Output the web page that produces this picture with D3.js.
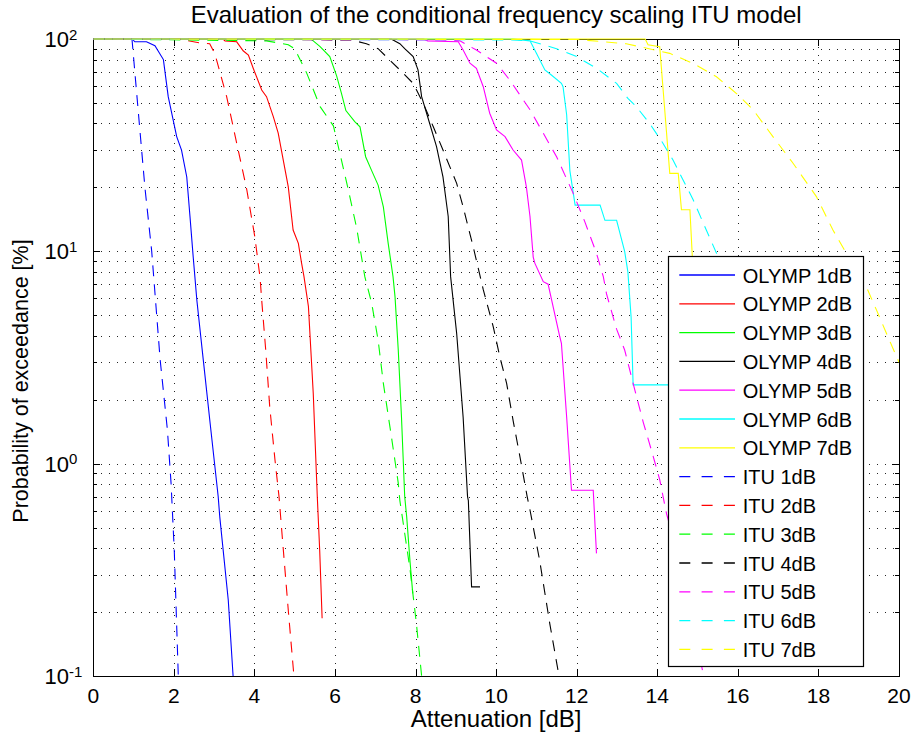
<!DOCTYPE html>
<html>
<head>
<meta charset="utf-8">
<script src="https://cdn.jsdelivr.net/npm/d3@7"></script>
<style>
  html, body { margin: 0; padding: 0; background: #fff; }
  svg { display: block; font-family: "Liberation Sans", Arial, Helvetica, sans-serif; }
</style>
</head>
<body>
<svg id="chart" width="917" height="740"></svg>
<script>
// ---------- data ----------
const titleText = "Evaluation of the conditional frequency scaling ITU model";
const xLabelText = "Attenuation [dB]";
const yLabelText = "Probability of exceedance [%]";
const xTicks = [0, 2, 4, 6, 8, 10, 12, 14, 16, 18, 20];
const yTickExps = [2, 1, 0, -1];

const seriesNames = ["OLYMP 1dB","OLYMP 2dB","OLYMP 3dB","OLYMP 4dB","OLYMP 5dB","OLYMP 6dB","OLYMP 7dB",
                     "ITU 1dB","ITU 2dB","ITU 3dB","ITU 4dB","ITU 5dB","ITU 6dB","ITU 7dB"];
const seriesColors = ["#0000ff","#ff0000","#00ff00","#000000","#ff00ff","#00ffff","#ffff00",
                      "#0000ff","#ff0000","#00ff00","#000000","#ff00ff","#00ffff","#ffff00"];
const seriesDashed = [false,false,false,false,false,false,false,true,true,true,true,true,true,true];

// OLYMP measured curves (attenuation dB, exceedance %)
const olymp1X = [0,0.97,1.03,1.32,1.53,1.74,1.86,2.07,2.19,2.32,2.40,2.48,2.57,2.73,2.90,3.10,3.14,3.35,3.47];
const olymp1Y = [100,100,97,97,93,80,53.5,34.7,30,22.4,14.6,9.4,5.9,3.08,1.55,0.70,0.56,0.228,0.1];
const olymp2X = [0,3.22,3.27,3.56,3.72,3.85,3.97,4.18,4.30,4.47,4.59,4.84,4.96,5.09,5.17,5.23,5.34,5.46,5.56,5.62,5.68];
const olymp2Y = [100,100,98,97,88,84,72.8,57.5,53.5,43,36,20.1,12.6,10.9,8.8,7.6,5.5,2.14,0.70,0.39,0.187];
const olymp3X = [0,5.40,5.46,5.63,5.87,6.04,6.16,6.27,6.49,6.62,6.76,6.91,7.07,7.20,7.32,7.44,7.49,7.57,7.65,7.73,7.78,7.86,7.93];
const olymp3Y = [100,100,98,92,82.6,67,55.5,46,40.8,38.6,27.9,24,20.5,16.2,10.9,7.6,6.1,3.43,1.66,0.70,0.56,0.35,0.245];
const olymp4X = [0,7.40,7.44,7.61,7.73,7.94,8.06,8.15,8.35,8.52,8.68,8.81,8.87,9.02,9.18,9.29,9.31,9.39,9.60];
const olymp4Y = [100,100,99,95,90,82.6,71.5,53.5,40,31.1,22.4,14.6,7.6,4.1,1.66,0.70,0.67,0.263,0.263];
const olymp5X = [0,8.20,8.30,9.06,9.18,9.35,9.51,9.68,9.84,10.01,10.22,10.42,10.63,10.75,10.84,10.92,10.96,11.17,11.29,11.58,11.62,11.75,11.87,12.41,12.49];
const olymp5Y = [100,100,98,97,88.7,76.9,72.8,59.6,44.7,37.3,34.7,30,26.9,20.1,14.6,9.4,8.8,7.2,7.0,3.96,3.69,1.66,0.75,0.75,0.378];
const olymp6X = [0,10.42,10.84,11.0,11.21,11.37,11.62,11.66,11.75,11.83,11.96,12.58,12.70,12.99,13.19,13.27,13.35,13.40,14.60];
const olymp6Y = [100,100,98,85.7,71.5,67.7,61.8,59.6,44,24,16.5,16.5,14,14,10,8.0,4.9,2.35,2.35];
const olymp7X = [0,13.70,13.77,14.06,14.31,14.52,14.60,14.81,14.87,14.95];
const olymp7Y = [100,100,94,92,23.3,23.3,15.7,15.7,9.4,4];

// ITU scaled curves
const itu1X = [0,0.96,1.12,1.28,1.45,1.66,1.84,1.93,2.01,2.11];
const itu1Y = [100,100,44.7,20.1,10,3.08,1.44,0.81,0.39,0.1];
const itu2X = [0,2.19,2.62,2.89,3.02,3.31,3.56,3.81,4.01,4.14,4.18,4.28,4.38,4.51,4.61,4.67,4.84,4.98];
const itu2Y = [100,99.5,96,95,85,53.5,32.3,19.5,11.7,7.5,5.9,3.43,1.85,1.04,0.70,0.505,0.204,0.1];
const itu3X = [0,4.30,4.84,5.0,5.30,5.63,5.96,6.12,6.33,6.54,6.74,6.91,7.07,7.20,7.40,7.57,7.61,7.86,8.02,8.15];
const itu3Y = [100,98,94,90,68.9,48,39,29,19.5,12.8,7.6,5.7,3.82,2.39,1.34,0.81,0.67,0.32,0.177,0.1];
const itu4X = [0,6.40,6.78,7.07,7.61,7.94,8.19,8.44,8.68,9.02,9.18,9.43,9.68,9.93,10.09,10.26,10.42,10.59,10.77,10.84,11.08,11.33,11.56];
const itu4Y = [100,99,95,90,71.5,61.8,49.8,38.6,30,20.9,16.2,10.5,6.6,4.4,3.19,2.39,1.6,1.08,0.70,0.605,0.35,0.177,0.1];
const itu5X = [0,8.60,9.10,9.51,10.01,10.34,10.84,11.17,11.50,11.91,12.20,12.49,12.66,12.74,12.99,13.19,13.40,13.65,13.90,14.06,14.23,14.60,15.15];
const itu5Y = [100,99,98,88.7,76.9,64,46.4,36,27.9,18.8,13.8,9.8,7.6,6.3,4.3,3.43,2.39,1.57,1.08,0.84,0.58,0.33,0.1];
const itu6X = [0,10.40,10.84,11.50,12.0,12.49,12.99,13.27,13.48,13.81,14.14,14.39,14.64,14.89,15.14,15.47,16.0,16.6,17.3,18.0,18.7];
const itu6Y = [100,99,98,90,82.6,72.8,61.8,52.5,48,40,32.3,26.9,21.7,17.5,13.6,9.8,5.2,2.5,1.0,0.4,0.12];
const itu7X = [0,12.0,13.23,14.31,14.88,15.47,15.96,16.38,16.87,17.37,17.95,18.36,18.69,19.19,19.44,19.69,19.94,20.0];
const itu7Y = [100,99.5,95,85.6,76.9,66.4,55.5,46.4,34.7,26,18.1,12.6,9.8,6.8,5.3,4.1,3.19,3.0];

const seriesX = [olymp1X,olymp2X,olymp3X,olymp4X,olymp5X,olymp6X,olymp7X,itu1X,itu2X,itu3X,itu4X,itu5X,itu6X,itu7X];
const seriesY = [olymp1Y,olymp2Y,olymp3Y,olymp4Y,olymp5Y,olymp6Y,olymp7Y,itu1Y,itu2Y,itu3Y,itu4Y,itu5Y,itu6Y,itu7Y];

// ---------- layout ----------
const svg = d3.select("#chart");
const L = 93.3, R = 899, T = 39, B = 676;
const x = d3.scaleLinear().domain([0, 20]).range([L, R]);
const y = d3.scaleLog().domain([0.1, 100]).range([B, T]);

// grid
const grid = svg.append("g").attr("stroke", "#000").attr("stroke-width", 1)
  .attr("stroke-dasharray", "1,7").attr("shape-rendering", "crispEdges").attr("opacity", 0.85);
xTicks.filter(v => v > 0 && v < 20).forEach(v => {
  grid.append("line").attr("x1", Math.round(x(v)) + 0.5).attr("x2", Math.round(x(v)) + 0.5)
    .attr("y1", T).attr("y2", B);
});
const minorVals = [];
[0.1, 1, 10].forEach(dec => { for (let k = 1; k <= 9; k++) minorVals.push(dec * k); });
minorVals.filter(v => v > 0.1 && v < 100).forEach(v => {
  grid.append("line").attr("y1", Math.round(y(v)) + 0.5).attr("y2", Math.round(y(v)) + 0.5)
    .attr("x1", L).attr("x2", R);
});

// axes box (drawn beneath the data, as in the original)
const axes = svg.append("g").attr("stroke", "#000").attr("stroke-width", 1).attr("shape-rendering", "crispEdges");
axes.append("rect").attr("x", L).attr("y", T).attr("width", R - L).attr("height", B - T).attr("fill", "none");
xTicks.forEach(v => {
  const px = Math.round(x(v)) + 0.5;
  axes.append("line").attr("x1", px).attr("x2", px).attr("y1", B).attr("y2", B - 7);
  axes.append("line").attr("x1", px).attr("x2", px).attr("y1", T).attr("y2", T + 7);
});
minorVals.concat([100]).forEach(v => {
  const py = Math.round(y(v)) + 0.5;
  const major = Math.abs(Math.log10(v) - Math.round(Math.log10(v))) < 1e-9;
  const len = major ? 7 : 4;
  axes.append("line").attr("x1", L).attr("x2", L + len).attr("y1", py).attr("y2", py);
  axes.append("line").attr("x1", R).attr("x2", R - len).attr("y1", py).attr("y2", py);
});

// curves
const clip = svg.append("clipPath").attr("id", "plotclip");
clip.append("rect").attr("x", L).attr("y", T - 1).attr("width", R - L).attr("height", B - T + 1);
const line = d3.line().x(d => x(d[0])).y(d => y(d[1]));
const curves = svg.append("g").attr("clip-path", "url(#plotclip)");
seriesNames.forEach((name, i) => {
  const pts = seriesX[i].map((v, j) => [v, seriesY[i][j]]);
  curves.append("path").datum(pts)
    .attr("d", line)
    .attr("fill", "none")
    .attr("stroke", seriesColors[i])
    .attr("stroke-width", 1.1)
    .attr("stroke-dasharray", seriesDashed[i] ? "11,8" : null);
});

// x tick labels
const xAxisG = svg.append("g");
xTicks.forEach(v => {
  xAxisG.append("text").attr("x", x(v)).attr("y", 703)
    .attr("text-anchor", "middle").attr("font-size", 21).attr("fill", "#000").text(v);
});
// y tick labels (10^n)
yTickExps.forEach(e => {
  const py = y(Math.pow(10, e));
  svg.append("text").attr("x", 69).attr("y", py + 8).attr("text-anchor", "end")
    .attr("font-size", 22).attr("fill", "#000").text("10");
  svg.append("text").attr("x", 69).attr("y", py + 0.5).attr("text-anchor", "start")
    .attr("font-size", 15).attr("fill", "#000").text(e < 0 ? "-" + Math.abs(e) : String(e));
});

// labels and title
svg.append("text").attr("x", (L + R) / 2).attr("y", 23).attr("text-anchor", "middle")
  .attr("font-size", 24).attr("fill", "#000").text(titleText);
svg.append("text").attr("x", (L + R) / 2).attr("y", 727).attr("text-anchor", "middle")
  .attr("font-size", 24).attr("fill", "#000").text(xLabelText);
svg.append("text").attr("transform", "translate(28, 381) rotate(-90)")
  .attr("text-anchor", "middle").attr("font-size", 21.5).attr("fill", "#000").text(yLabelText);

// legend
const lg = svg.append("g");
const lgX = 668.5, lgY = 256.5, lgW = 195, lgH = 410;
lg.append("rect").attr("x", lgX).attr("y", lgY).attr("width", lgW).attr("height", lgH)
  .attr("fill", "#fff").attr("stroke", "#000").attr("stroke-width", 1.2);
seriesNames.forEach((name, i) => {
  const cy = 275 + i * 28.8;
  lg.append("line").attr("x1", 679.3).attr("x2", 735).attr("y1", cy).attr("y2", cy)
    .attr("stroke", seriesColors[i]).attr("stroke-width", 1.3)
    .attr("stroke-dasharray", seriesDashed[i] ? "11,11.3" : null);
  lg.append("text").attr("x", 742.7).attr("y", cy + 7.5).attr("font-size", 20)
    .attr("fill", "#000").text(name);
});
</script>
</body>
</html>
